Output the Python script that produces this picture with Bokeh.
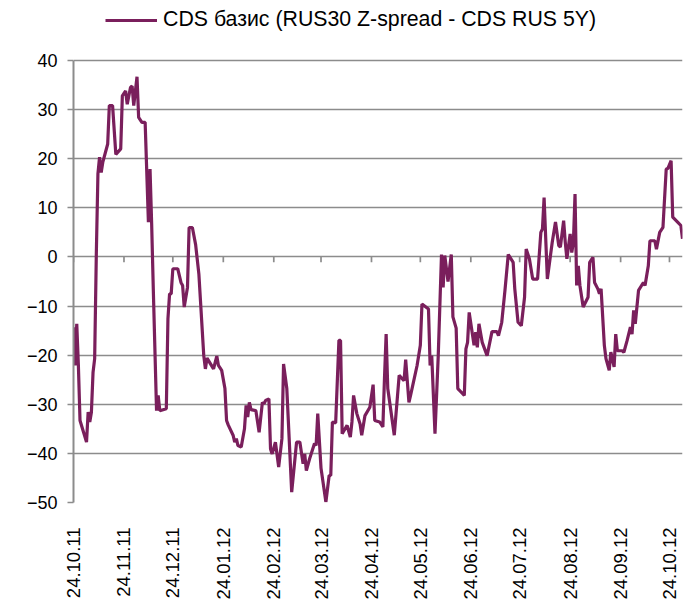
import math
import pandas as pd
from bokeh.plotting import figure
from bokeh.models import (Range1d, FixedTicker, DatetimeTickFormatter, Legend,
                          LegendItem, ColumnDataSource)
from bokeh.embed import file_html
from bokeh.resources import INLINE

# ---------------- data ----------------
start_date = "2011-10-24"
day_offsets = [
    0, 1, 2, 3, 4, 8, 9, 10, 11, 12, 13, 14, 15, 16, 17, 18, 21, 22, 24, 26,
    29, 30, 32, 33, 35, 36, 37, 39, 40, 42, 44, 46, 47, 48, 49, 51, 52, 53, 57, 58,
    59, 60, 61, 64, 66, 67, 68, 70, 71, 73, 75, 77, 80, 81, 82, 86, 88, 89, 91, 93,
    94, 95, 98, 99, 100, 101, 103, 105, 106, 107, 108, 109, 112, 114, 116, 117, 118, 120, 121, 122,
    124, 126, 128, 129, 131, 134, 137, 139, 141, 142, 143, 145, 148, 149, 150, 152, 155, 157, 158, 159,
    161, 163, 164, 165, 168, 170, 171, 172, 174, 176, 177, 179, 182, 184, 185, 188, 190, 191, 192, 193,
    197, 199, 200, 203, 204, 206, 207, 211, 213, 214, 218, 219, 220, 222, 224, 226, 227, 228, 230, 232,
    233, 235, 236, 238, 240, 241, 242, 243, 246, 247, 248, 249, 251, 254, 257, 260, 261, 263, 265, 267,
    270, 271, 273, 275, 277, 278, 280, 282, 285, 287, 288, 289, 291, 294, 296, 298, 299, 301, 302, 303,
    305, 306, 307, 308, 309, 310, 311, 313, 316, 317, 319, 320, 322, 323, 324, 326, 327, 329, 330, 332,
    333, 334, 337, 338, 340, 342, 343, 344, 345, 347, 350, 351, 353, 354, 357, 358, 360, 362, 364, 365,
    367, 368, 371, 373, 374,
]
cds_basis = [
    -14.3, -22.1, -13.6, -22.1, -33.3, -37.7, -31.6, -33.6, -31.6, -23.5, -20.7, 0.3, 16.9, 20.3, 17.2, 19.3, 23.0, 30.8, 30.8, 20.9,
    22.0, 32.8, 33.8, 31.1, 34.5, 34.8, 30.8, 36.7, 28.4, 27.4, 27.4, 7.1, 17.9, 6.7, -6.5, -31.3, -28.2, -31.3, -30.9, -12.6,
    -7.5, -7.5, -2.4, -2.4, -5.2, -5.8, -10.2, -6.2, 6.0, 6.0, 2.5, -3.5, -20.1, -22.8, -20.6, -22.8, -20.2, -22.1, -23.1, -26.8,
    -33.3, -34.2, -36.3, -37.7, -37.0, -38.4, -38.7, -35.0, -30.2, -32.6, -29.6, -31.1, -31.3, -35.7, -29.6, -29.9, -29.2, -28.9, -39.1, -40.1,
    -37.7, -42.8, -37.0, -21.8, -26.8, -47.9, -37.7, -37.7, -42.1, -40.1, -43.5, -41.1, -38.0, -38.4, -31.9, -43.0, -49.9, -44.5, -44.5, -33.6,
    -33.8, -17.0, -17.0, -36.0, -34.3, -36.7, -33.6, -28.2, -31.9, -34.0, -36.3, -32.3, -30.6, -26.0, -33.3, -33.6, -34.6, -24.5, -15.7, -26.8,
    -36.3, -28.2, -24.1, -25.2, -20.9, -29.6, -28.2, -22.1, -18.0, -9.6, -10.6, -22.1, -20.1, -36.0, -20.1, 0.5, -6.2, 0.3, -5.0, 0.5,
    -12.2, -14.5, -26.8, -27.5, -28.2, -18.7, -17.4, -11.3, -18.0, -15.3, -18.4, -13.6, -17.4, -20.1, -15.2, -15.2, -16.0, -13.3, -6.7, 0.5,
    -1.1, -6.5, -13.3, -14.0, -8.2, 1.6, -0.4, -4.5, -4.5, 5.0, 5.7, 12.1, -4.5, 3.0, 7.1, 2.3, 2.0, 7.4, 3.0, -0.4,
    4.7, 0.9, 3.0, 12.8, -5.8, -1.8, -5.8, -10.2, -8.2, -1.1, -0.1, -5.2, -6.5, -7.5, -6.5, -18.0, -20.7, -23.1, -19.4, -22.4,
    -15.7, -19.1, -19.1, -19.4, -17.0, -14.3, -15.7, -10.9, -13.6, -6.8, -5.2, -5.8, -1.8, 3.3, 3.3, 1.6, 5.0, 6.0, 17.9, 18.0,
    19.6, 8.1, 7.1, 6.4, 3.7,
]
tick_labels = ["24.10.11", "24.11.11", "24.12.11", "24.01.12", "24.02.12", "24.03.12",
               "24.04.12", "24.05.12", "24.06.12", "24.07.12", "24.08.12", "24.09.12",
               "24.10.12"]
y_ticks = [-50, -40, -30, -20, -10, 0, 10, 20, 30, 40]
series_name = "CDS базис (RUS30 Z-spread - CDS RUS 5Y)"

# ---------------- derived ----------------
dates = pd.Timestamp(start_date) + pd.to_timedelta(day_offsets, unit="D")
tick_dates = pd.to_datetime(tick_labels, format="%d.%m.%y")
epoch = pd.Timestamp("1970-01-01")
tick_ms = [(d - epoch).total_seconds() * 1000.0 for d in tick_dates]

LINE_COLOR = "#7a1f5c"
GRID_COLOR = "#8c8c8c"
FONT = "Liberation Sans"

# layout (pixels)
W, H = 690, 602
BORDER_L, BORDER_R, BORDER_T, BORDER_B = 73, 8, 2, 100
PLOT_TOP_PX = 60          # where the value 40 sits
y_lo, y_hi = y_ticks[0], y_ticks[-1]
frame_h = H - BORDER_T - BORDER_B
px_per_unit = (H - BORDER_B - PLOT_TOP_PX) / (y_hi - y_lo)
y_top = y_lo + frame_h / px_per_unit   # head-room above the grid for the legend

p = figure(width=W, height=H, x_axis_type="datetime",
           output_backend="svg", toolbar_location=None,
           x_range=Range1d(dates[0], dates[-1]), y_range=Range1d(y_lo, y_top),
           min_border_left=BORDER_L, min_border_right=BORDER_R,
           min_border_top=BORDER_T, min_border_bottom=BORDER_B)
p.outline_line_color = None
p.background_fill_color = "white"
p.border_fill_color = "white"

# grid
p.xgrid.grid_line_color = None
p.ygrid.ticker = FixedTicker(ticks=y_ticks)
p.ygrid.grid_line_color = GRID_COLOR
p.ygrid.grid_line_width = 1.7

# y axis
p.yaxis.ticker = FixedTicker(ticks=y_ticks)
p.yaxis.bounds = (y_lo, y_hi)
p.yaxis.axis_line_color = GRID_COLOR
p.yaxis.axis_line_width = 2
p.yaxis.major_tick_line_color = GRID_COLOR
p.yaxis.major_tick_line_width = 1.7
p.yaxis.major_tick_out = 6
p.yaxis.major_tick_in = 0
p.yaxis.minor_tick_line_color = None
p.yaxis.minor_tick_out = 0
p.yaxis.minor_tick_in = 0
p.yaxis.major_label_standoff = 10
p.yaxis.major_label_text_font = FONT
p.yaxis.major_label_text_font_size = "18px"
p.yaxis.major_label_text_color = "black"

# x axis (labels at bottom)
p.xaxis.ticker = FixedTicker(ticks=tick_ms)
fmt = "%d.%m.%y"
p.xaxis.formatter = DatetimeTickFormatter(
    microseconds=fmt, milliseconds=fmt, seconds=fmt, minsec=fmt, minutes=fmt,
    hourmin=fmt, hours=fmt, days=fmt, months=fmt, years=fmt)
p.xaxis.axis_line_color = None
p.xaxis.major_tick_line_color = None
p.xaxis.minor_tick_line_color = None
p.xaxis.major_tick_out = 0
p.xaxis.major_tick_in = 0
p.xaxis.minor_tick_out = 0
p.xaxis.minor_tick_in = 0
p.xaxis.major_label_orientation = math.pi / 2
p.xaxis.major_label_standoff = 25
p.xaxis.major_label_text_font = FONT
p.xaxis.major_label_text_font_size = "18.5px"
p.xaxis.major_label_text_color = "black"

# tick marks hanging from the zero line
p.segment(x0=list(tick_dates), y0=0, x1=list(tick_dates), y1=-1.1,
          line_color=GRID_COLOR, line_width=1.7)

src = ColumnDataSource(dict(date=dates, value=cds_basis))
r = p.line("date", "value", source=src, line_color=LINE_COLOR, line_width=3.2)

legend = Legend(items=[LegendItem(label=series_name, renderers=[r])],
                location=(32, H - BORDER_B - 32), orientation="horizontal",
                padding=0, margin=0, spacing=0,
                glyph_width=52, glyph_height=20, label_height=20,
                label_standoff=6, border_line_color=None,
                background_fill_alpha=0,
                label_text_font=FONT, label_text_font_size="21.3px",
                label_text_color="black")
p.add_layout(legend)

open("out.html", "w").write(file_html(p, INLINE))
